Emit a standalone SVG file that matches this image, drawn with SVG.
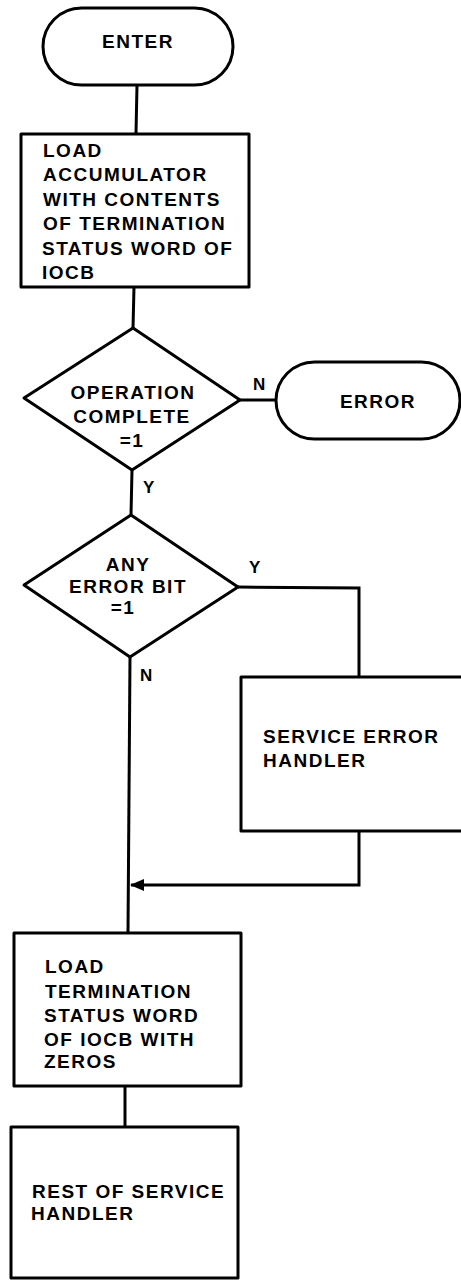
<svg xmlns="http://www.w3.org/2000/svg" width="461" height="1280" viewBox="0 0 461 1280">
<style>
.s{fill:#fff;stroke:#000;stroke-width:3;stroke-linejoin:round}
.c{fill:none;stroke:#000;stroke-width:3}
text{font-family:"Liberation Sans",Arial,sans-serif;font-weight:bold;font-size:19px;letter-spacing:1.5px;fill:#000}
.m{text-anchor:middle}
</style>
<defs>
<marker id="ah" markerWidth="14" markerHeight="12" refX="13" refY="6" orient="auto" markerUnits="userSpaceOnUse">
<path d="M0,0 L14,6 L0,12 Z" fill="#000"/>
</marker>
</defs>
<rect width="461" height="1280" fill="#fff"/>
<g id="connectors">
<line class="c" x1="137" y1="85" x2="136" y2="133"/>
<line class="c" x1="134" y1="287" x2="133" y2="328"/>
<line class="c" x1="240" y1="400" x2="276" y2="400"/>
<line class="c" x1="132" y1="470" x2="131" y2="515"/>
<polyline class="c" points="238,587 359,588 359,677"/>
<line class="c" x1="130" y1="657" x2="128" y2="933"/>
<polyline class="c" points="359,831 359,885 131,885" marker-end="url(#ah)"/>
<line class="c" x1="125" y1="1086" x2="125" y2="1127"/>
<text x="253" y="390" style="font-size:17px">N</text>
<text x="143" y="493" style="font-size:17px">Y</text>
<text x="249" y="573" style="font-size:17px">Y</text>
<text x="140" y="681" style="font-size:17px">N</text>
</g>
<g id="enter">
<rect class="s" x="43" y="8" width="190" height="77" rx="38.5"/>
<text class="m" x="138" y="48">ENTER</text>
</g>
<g id="load-acc">
<rect class="s" x="21" y="134" width="228" height="153"/>
<text x="43" y="157">LOAD</text>
<text x="43" y="181">ACCUMULATOR</text>
<text x="43" y="206">WITH CONTENTS</text>
<text x="43" y="230">OF TERMINATION</text>
<text x="42" y="255">STATUS WORD OF</text>
<text x="42" y="279">IOCB</text>
</g>
<g id="op-complete">
<polygon class="s" points="133,328 240,400 132,470 24,398"/>
<text class="m" x="133" y="399">OPERATION</text>
<text class="m" x="132" y="423">COMPLETE</text>
<text class="m" x="132" y="447">=1</text>
</g>
<g id="error">
<rect class="s" x="276" y="362" width="184" height="77" rx="38.5"/>
<text class="m" x="378" y="408">ERROR</text>
</g>
<g id="any-error">
<polygon class="s" points="131,515 238,587 130,657 24,585"/>
<text class="m" x="128" y="571">ANY</text>
<text class="m" x="128" y="593">ERROR BIT</text>
<text class="m" x="123" y="614">=1</text>
</g>
<g id="service-error">
<rect class="s" x="241" y="677" width="222" height="154"/>
<text x="263" y="743">SERVICE ERROR</text>
<text x="263" y="767">HANDLER</text>
</g>
<g id="load-zeros">
<rect class="s" x="14" y="933" width="227" height="153"/>
<text x="45" y="973">LOAD</text>
<text x="45" y="998">TERMINATION</text>
<text x="44" y="1022">STATUS WORD</text>
<text x="44" y="1046">OF IOCB WITH</text>
<text x="44" y="1068">ZEROS</text>
</g>
<g id="rest">
<rect class="s" x="11" y="1127" width="227" height="151"/>
<text x="32" y="1198">REST OF SERVICE</text>
<text x="31" y="1220">HANDLER</text>
</g>
</svg>
